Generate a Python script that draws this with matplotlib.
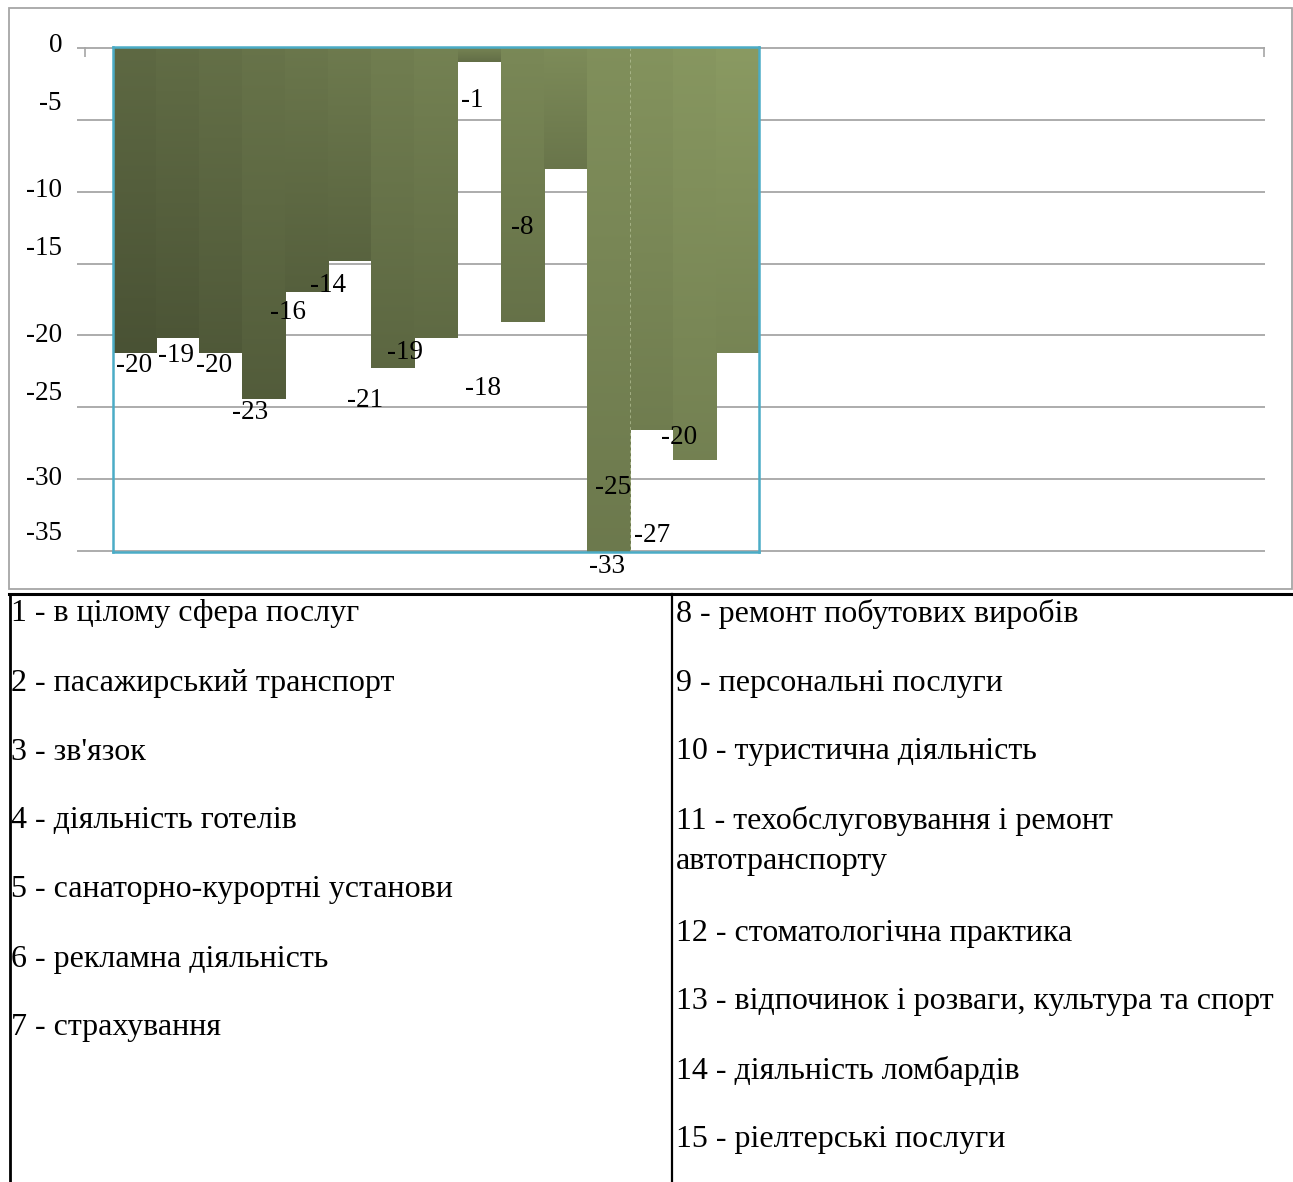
import numpy as np
import matplotlib.pyplot as plt
from matplotlib.patches import Rectangle
from matplotlib.transforms import blended_transform_factory, offset_copy

plt.rcParams['font.family'] = ['Liberation Serif', 'DejaVu Serif']

# indices of service branches and change values, %
categories = list(range(1, 16))
values = [-20, -19, -20, -23, -16, -14, -21, -19, -1, -18, -8, -33, -25, -27, -20]
y_ticks = [0, -5, -10, -15, -20, -25, -30, -35]

legend_left = [
    "1 - в цілому сфера послуг",
    "2 - пасажирський транспорт",
    "3 - зв'язок",
    "4 - діяльність готелів",
    "5 - санаторно-курортні установи",
    "6 - рекламна діяльність",
    "7 - страхування",
]
legend_right = [
    "8 - ремонт побутових виробів",
    "9 - персональні послуги",
    "10 - туристична діяльність",
    "11 - техобслуговування і ремонт\nавтотранспорту",
    "12 - стоматологічна практика",
    "13 - відпочинок і розваги, культура та спорт",
    "14 - діяльність ломбардів",
    "15 - ріелтерські послуги",
]

# label placement relative to bar end, pixels (right / down)
label_dx = [0, -2, -7, -14, -19, -22, -28, -31, -7, -39, -43, -1, -38, -42, -58]
label_dy = [12, 18, 12, 14, 21, 24, 32, 15, 38, 66, 58, 14, 58, 75, 84]
# odd axis labels sit higher than their gridlines
tick_shift = [2, 16, 1, 15, 0, 14, 1, 18]

W, H = 1293, 1182
fig = plt.figure(figsize=(W / 100, H / 100), dpi=100)


def box(x0, y0, x1, y1):
    return [x0 / W, 1 - y1 / H, (x1 - x0) / W, (y1 - y0) / H]


# background grid with value axis
ag = fig.add_axes(box(77, 47, 1265, 552))
ag.set_ylim(-35.05, 0.05)
ag.set_xlim(0, 1188)
ag.set_yticks(y_ticks)
ag.set_yticklabels([])
ag.grid(axis='y', color='#a6a6a6', lw=1.3)
ag.tick_params(axis='y', length=0)
ag.set_xticks([8, 1187])
ag.tick_params(axis='x', top=True, bottom=False, labeltop=False, labelbottom=False,
               direction='in', length=7, width=1.2, color='#a6a6a6')
for s in ag.spines.values():
    s.set_visible(False)
ag.set_axisbelow(True)

trans = blended_transform_factory(ag.transAxes, ag.transData)
for v, sh in zip(y_ticks, tick_shift):
    t = offset_copy(trans, fig=fig, x=-15, y=sh, units='dots')
    ag.text(0, v, str(v), transform=t, ha='right', va='center', fontsize=19.5)

# bars
ab = fig.add_axes(box(113, 47, 759, 552))
ab.patch.set_alpha(0)
x = np.arange(len(values))
top_l = np.array([94, 105, 67]) / 255
top_r = np.array([138, 154, 98]) / 255
bars = ab.bar(x, values, width=1.0, color='none', edgecolor='none')
grad = np.linspace(0, 1, 256)[:, None, None]
for i, (b, v) in enumerate(zip(bars, values)):
    f = i / (len(values) - 1)
    c_top = top_l * (1 - f) + top_r * f
    c_bot = c_top * (0.78 + 0.08 * f)
    img = c_top * (1 - grad) + c_bot * grad
    im = ab.imshow(img, extent=(i - 0.5, i + 0.5, v, 0), origin='upper',
                   aspect='auto', interpolation='bilinear')
    im.set_clip_path(b)
ab.axvline(11.5, ymin=0, ymax=1, color='#b8c49a', lw=0.7, ls=(0, (3, 3)), alpha=0.7)
ab.set_xlim(-0.5, len(values) - 0.5)
ab.set_ylim(min(values), 0)
ab.set_xticks([])
ab.set_yticks([])
for s in ab.spines.values():
    s.set_color('#4bacc6')
    s.set_linewidth(1.8)

for i, v in enumerate(values):
    ab.annotate(str(v), xy=(i, v), xytext=(label_dx[i] * 0.72, -label_dy[i] * 0.72),
                textcoords='offset points', ha='center', va='center', fontsize=19.5,
                annotation_clip=False)

# frame and legend table, drawn in pixel units
ov = fig.add_axes([0, 0, 1, 1], zorder=-1)
ov.set_xlim(0, W)
ov.set_ylim(H, 0)
ov.axis('off')
ov.add_patch(Rectangle((9, 8), 1283, 581, fill=False, ec='#a6a6a6', lw=1.3))
ov.plot([9, W], [594, 594], color='black', lw=2.2)
ov.plot([9.5, 9.5], [594, H], color='black', lw=2.0)
ov.plot([672, 672], [594, H], color='black', lw=1.6)

row_h = 69
wrap_h = 40
for col_x, items in [(11, legend_left), (676, legend_right)]:
    y = 614
    for item in items:
        for k, line in enumerate(item.split('\n')):
            if k:
                y += wrap_h
            ov.text(col_x, y, line, ha='left', va='center', fontsize=23)
        y += row_h + (3 if '\n' in item else 0)

fig.savefig('out.png', dpi=100)
